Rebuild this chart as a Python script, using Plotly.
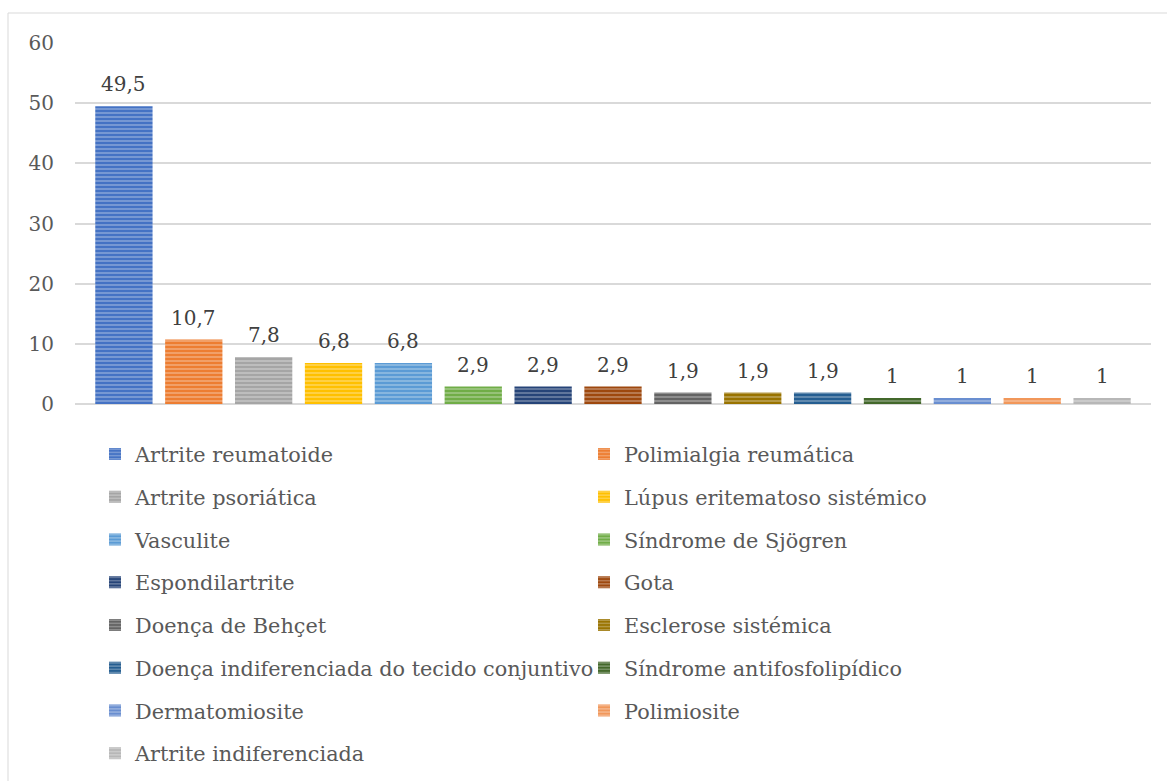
import plotly.graph_objects as go

categories = [
    "Artrite reumatoide", "Polimialgia reumática", "Artrite psoriática",
    "Lúpus eritematoso sistémico", "Vasculite", "Síndrome de Sjögren",
    "Espondilartrite", "Gota", "Doença de Behçet", "Esclerose sistémica",
    "Doença indiferenciada do tecido conjuntivo", "Síndrome antifosfolipídico",
    "Dermatomiosite", "Polimiosite", "Artrite indiferenciada",
]
values = [49.5, 10.7, 7.8, 6.8, 6.8, 2.9, 2.9, 2.9, 1.9, 1.9, 1.9, 1, 1, 1, 1]
colors = [
    "#4472C4", "#ED7D31", "#A5A5A5", "#FFC000", "#5B9BD5", "#70AD47",
    "#264478", "#9E480E", "#636363", "#997300", "#255E91", "#43682B",
    "#698ED0", "#F1975A", "#B7B7B7",
]
y_ticks = [0, 10, 20, 30, 40, 50, 60]

W, H = 1167, 781
L, R, T, B = 75, 16, 43, 377
PW, PH = W - L - R, H - T - B
FONT = "DejaVu Serif"


def tint(hexc, f=0.45):
    h = hexc.lstrip("#")
    r, g, b = (int(h[i:i + 2], 16) for i in (0, 2, 4))
    r, g, b = (int(c + (255 - c) * f) for c in (r, g, b))
    return f"rgb({r},{g},{b})"


def px_x(p):
    return (p - L) / PW


def px_y(p):
    return (H - B - p) / PH


fig = go.Figure()
for i, (cat, v, c) in enumerate(zip(categories, values, colors)):
    fig.add_trace(go.Bar(
        x=[cat], y=[v], name=cat, width=0.82,
        marker=dict(color=c, line=dict(width=0),
                    pattern=dict(shape="-", fgcolor=tint(c), bgcolor=c,
                                 size=4, solidity=0.3, fillmode="replace")),
        legend="legend" if i % 2 == 0 else "legend2",
        legendgroup=f"g{i}",
        hoverinfo="skip",
    ))

for cat, v in zip(categories, values):
    fig.add_annotation(
        x=cat, y=v, text=f"{v:g}".replace(".", ","), showarrow=False,
        yanchor="bottom", yshift=8,
        font=dict(family=FONT, size=20, color="#404040"),
    )

fig.add_shape(type="rect", xref="paper", yref="paper",
              x0=px_x(8), x1=px_x(1175), y0=px_y(13), y1=px_y(795),
              line=dict(color="#D9D9D9", width=1), layer="below")

legend_common = dict(
    orientation="v", yanchor="top", xanchor="left",
    font=dict(family=FONT, size=20.8, color="#595959"),
    bgcolor="rgba(0,0,0,0)", tracegroupgap=12.7, traceorder="grouped",
    itemclick=False, itemdoubleclick=False,
)

fig.update_layout(
    width=W, height=H,
    margin=dict(l=L, r=R, t=T, b=B, autoexpand=False),
    paper_bgcolor="white", plot_bgcolor="white",
    barmode="overlay",
    showlegend=True,
    legend=dict(x=px_x(95), y=px_y(434), **legend_common),
    legend2=dict(x=px_x(584), y=px_y(434), **legend_common),
    xaxis=dict(type="category", categoryorder="array", categoryarray=categories,
               range=[-0.7, len(categories) - 0.3], showticklabels=False,
               showgrid=False, zeroline=False, showline=False, ticks=""),
    yaxis=dict(range=[0, 60], tickvals=y_ticks, showgrid=True,
               gridcolor="#D9D9D9", gridwidth=1.5, zeroline=True,
               zerolinecolor="#D9D9D9", zerolinewidth=1.5,
               showline=False, ticks="", ticklabelstandoff=20,
               tickfont=dict(family=FONT, size=20, color="#595959")),
    font=dict(family=FONT),
)

fig.write_html("out.html")
